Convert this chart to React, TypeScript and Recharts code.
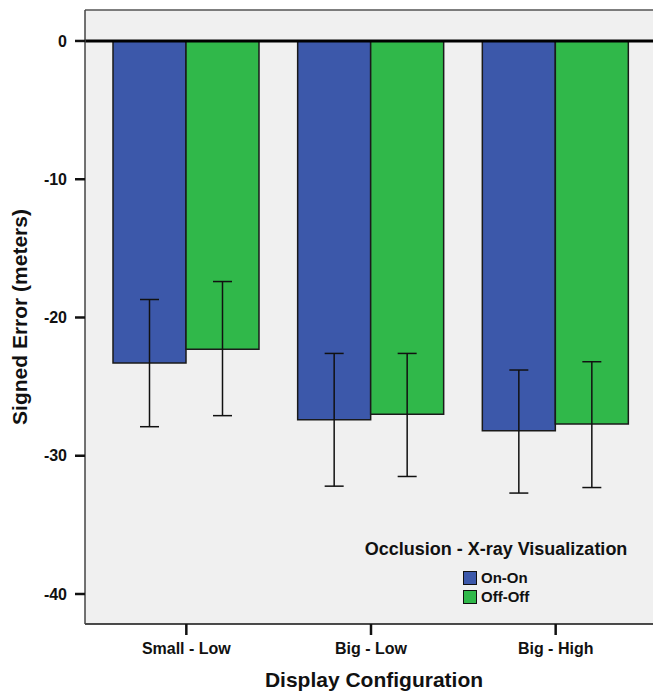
import React from 'react';
import { ComposedChart, Bar, XAxis, YAxis, ErrorBar, ReferenceLine, CartesianGrid, Legend, Label } from 'recharts';

const categories = ['Small - Low', 'Big - Low', 'Big - High'];
const seriesNames = ['On-On', 'Off-Off'];
const onOnMean = [-23.3, -27.4, -28.2];
const onOnLower = [-27.9, -32.2, -32.7];
const onOnUpper = [-18.7, -22.6, -23.8];
const offOffMean = [-22.3, -27.0, -27.7];
const offOffLower = [-27.1, -31.5, -32.3];
const offOffUpper = [-17.4, -22.6, -23.2];
const yTicks = [0, -10, -20, -30, -40];
const yDomain: [number, number] = [-42.17, 2.24];

const colors = ['#3c58aa', '#30b84a'];
const FONT = '"Liberation Sans", Arial, Helvetica, sans-serif';

const data = categories.map((c, i) => ({
  category: c,
  onOn: onOnMean[i],
  onOnErr: [onOnMean[i] - onOnLower[i], onOnUpper[i] - onOnMean[i]],
  offOff: offOffMean[i],
  offOffErr: [offOffMean[i] - offOffLower[i], offOffUpper[i] - offOffMean[i]],
}));

const renderLegend = (props: any) => {
  const payload = [...(props.payload || [])].sort(
    (a: any, b: any) => seriesNames.indexOf(a.value) - seriesNames.indexOf(b.value)
  );
  return (
    <div style={{ fontFamily: FONT, color: '#111', width: 312 }}>
      <div style={{ textAlign: 'center', fontWeight: 'bold', fontSize: 18, lineHeight: '22px' }}>
        Occlusion - X-ray Visualization
      </div>
      <div style={{ paddingLeft: 123, marginTop: 8 }}>
        {payload.map((p: any) => (
          <div key={p.value} style={{ display: 'flex', alignItems: 'center', height: 19 }}>
            <span
              style={{
                display: 'inline-block',
                width: 12,
                height: 12,
                background: p.color,
                border: '1.5px solid #111',
                marginRight: 4,
              }}
            />
            <span style={{ fontWeight: 'bold', fontSize: 15 }}>{p.value}</span>
          </div>
        ))}
      </div>
    </div>
  );
};

export default function App() {
  return (
    <div style={{ position: 'absolute', left: 0, top: 0, width: 653, height: 691, background: '#fff' }}>
      <ComposedChart
        width={653}
        height={691}
        data={data}
        margin={{ top: 10, right: 0, left: 0, bottom: 0 }}
        barCategoryGap={19}
        barGap={0}
        style={{ fontFamily: FONT }}
      >
        <CartesianGrid horizontal={false} vertical={false} fill="#f0f0f0" stroke="none" />
        <XAxis
          dataKey="category"
          height={67}
          padding={{ left: 9, right: 5 }}
          axisLine={{ stroke: '#111', strokeWidth: 1.5 }}
          tickLine={{ stroke: '#111', strokeWidth: 2.5 }}
          tickSize={11}
          tickMargin={8}
          tick={{ fill: '#111', fontSize: 16, fontWeight: 'bold', fontFamily: FONT }}
        >
          <Label
            content={(p: any) => {
              const vb = p.viewBox || {};
              return (
                <text
                  x={vb.x + vb.width / 2 + 5}
                  y={vb.y + vb.height - 4}
                  textAnchor="middle"
                  fill="#111"
                  fontSize={21}
                  fontWeight="bold"
                  fontFamily={FONT}
                >
                  Display Configuration
                </text>
              );
            }}
          />
        </XAxis>
        <YAxis
          type="number"
          domain={yDomain}
          ticks={yTicks}
          width={85}
          axisLine={{ stroke: '#444', strokeWidth: 1.5 }}
          tickLine={{ stroke: '#111', strokeWidth: 2.5 }}
          tickSize={10}
          tickMargin={8}
          tick={{ fill: '#111', fontSize: 16, fontWeight: 'bold', fontFamily: FONT }}
        >
          <Label
            content={(p: any) => {
              const vb = p.viewBox || {};
              const cx = vb.x + 19.5;
              const cy = vb.y + vb.height / 2;
              return (
                <text
                  x={cx}
                  y={cy}
                  transform={`rotate(-90, ${cx}, ${cy})`}
                  textAnchor="middle"
                  dominantBaseline="central"
                  fill="#111"
                  fontSize={21}
                  fontWeight="bold"
                  fontFamily={FONT}
                >
                  Signed Error (meters)
                </text>
              );
            }}
          />
        </YAxis>
        <Bar dataKey="onOn" name={seriesNames[0]} fill={colors[0]} stroke="#1a1a1a" strokeWidth={1.5} isAnimationActive={false}>
          <ErrorBar dataKey="onOnErr" width={9.5} stroke="#111" strokeWidth={1.5} direction="y" />
        </Bar>
        <Bar dataKey="offOff" name={seriesNames[1]} fill={colors[1]} stroke="#1a1a1a" strokeWidth={1.5} isAnimationActive={false}>
          <ErrorBar dataKey="offOffErr" width={9.5} stroke="#111" strokeWidth={1.5} direction="y" />
        </Bar>
        <ReferenceLine y={0} stroke="#000" strokeWidth={3} />
        <ReferenceLine y={yDomain[1]} stroke="#555" strokeWidth={1.5} />
        <Legend
          layout="horizontal"
          verticalAlign="middle"
          align="center"
          content={renderLegend}
          wrapperStyle={{ position: 'absolute', left: 340, top: 538, width: 312, height: 80 }}
        />
      </ComposedChart>
    </div>
  );
}
